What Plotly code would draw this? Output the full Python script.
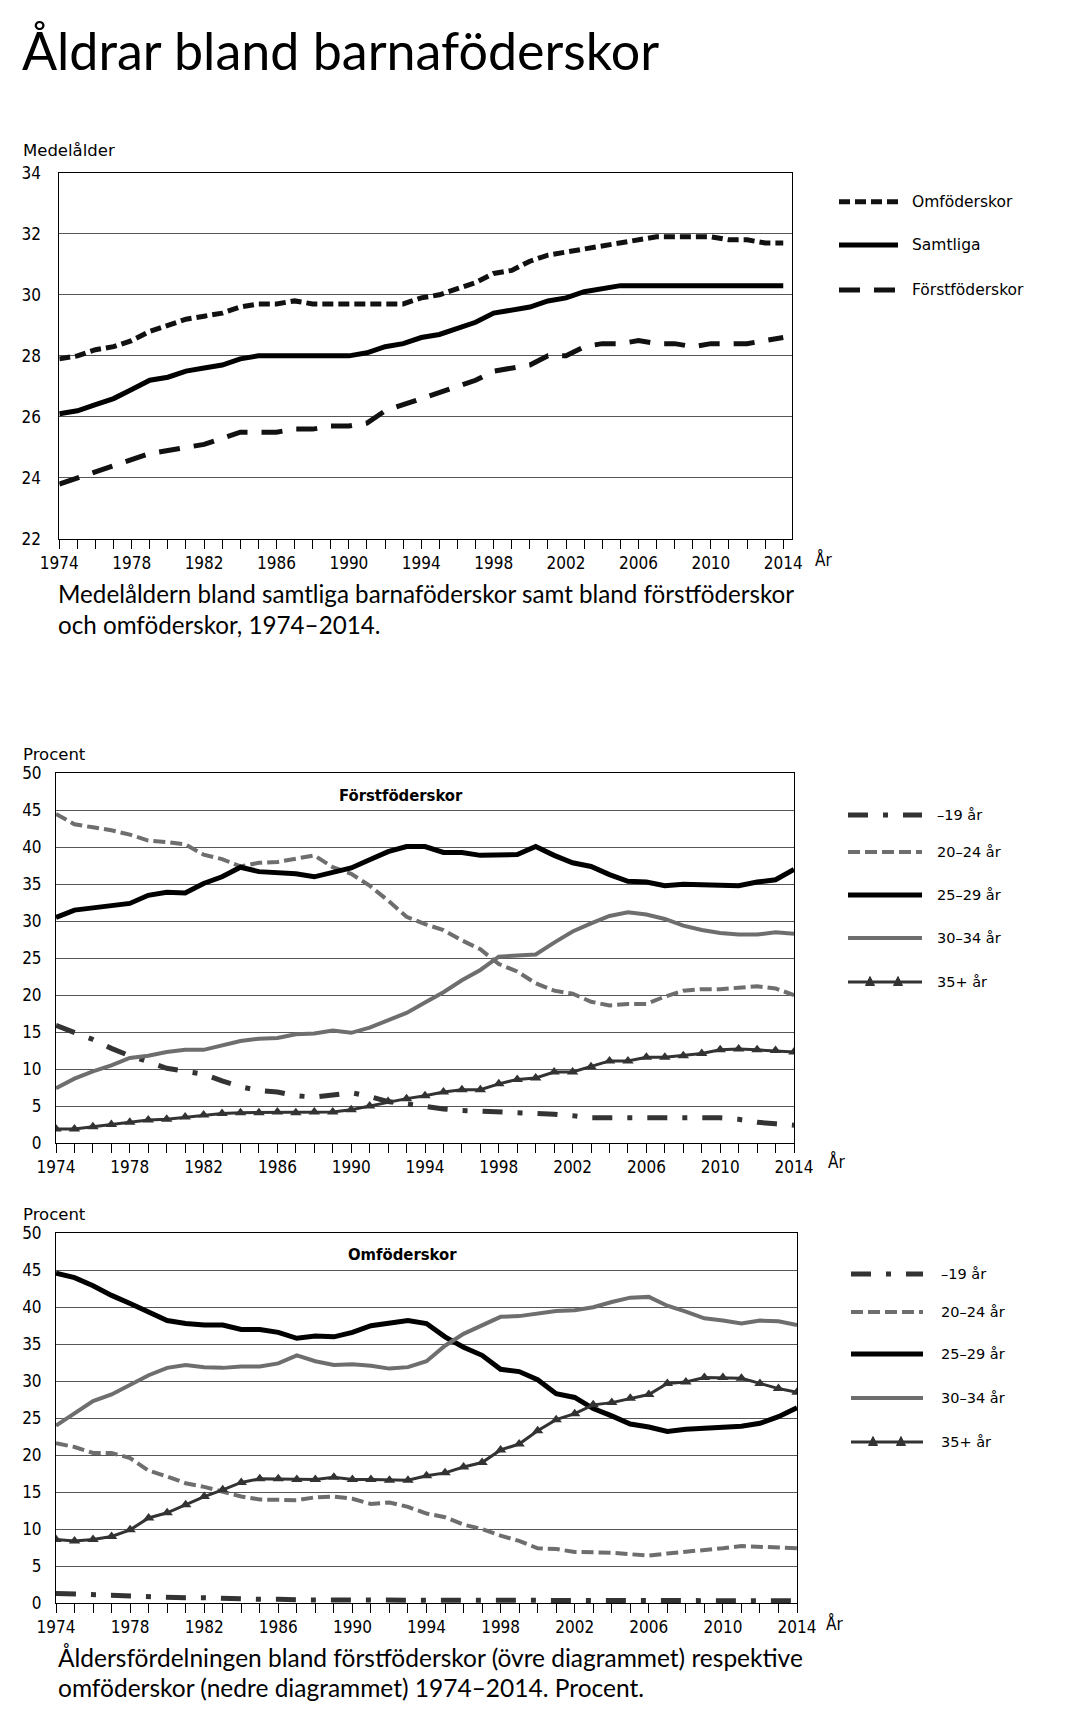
import plotly.graph_objects as go

# ---------------- data ----------------
years = list(range(1974, 2015))
x_tick_years = list(range(1974, 2015, 4))

# Chart 1: Medelålder
mean_omf = [27.9, 28.0, 28.2, 28.3, 28.5, 28.8, 29.0, 29.2, 29.3, 29.4,
            29.6, 29.7, 29.7, 29.8, 29.7, 29.7, 29.7, 29.7, 29.7, 29.7,
            29.9, 30.0, 30.2, 30.4, 30.7, 30.8, 31.1, 31.3, 31.4, 31.5,
            31.6, 31.7, 31.8, 31.9, 31.9, 31.9, 31.9, 31.8, 31.8, 31.7, 31.7]
mean_samt = [26.1, 26.2, 26.4, 26.6, 26.9, 27.2, 27.3, 27.5, 27.6, 27.7,
             27.9, 28.0, 28.0, 28.0, 28.0, 28.0, 28.0, 28.1, 28.3, 28.4,
             28.6, 28.7, 28.9, 29.1, 29.4, 29.5, 29.6, 29.8, 29.9, 30.1,
             30.2, 30.3, 30.3, 30.3, 30.3, 30.3, 30.3, 30.3, 30.3, 30.3, 30.3]
mean_forst = [23.8, 24.0, 24.2, 24.4, 24.6, 24.8, 24.9, 25.0, 25.1, 25.3,
              25.5, 25.5, 25.5, 25.6, 25.6, 25.7, 25.7, 25.8, 26.2, 26.4,
              26.6, 26.8, 27.0, 27.2, 27.5, 27.6, 27.7, 28.0, 28.0, 28.3,
              28.4, 28.4, 28.5, 28.4, 28.4, 28.3, 28.4, 28.4, 28.4, 28.5, 28.6]

# Chart 2: Förstföderskor, procent
forst_u19 = [15.9, 15.0, 14.0, 12.8, 11.8, 11.0, 10.1, 9.7, 9.3, 8.4,
             7.6, 7.1, 6.9, 6.4, 6.2, 6.5, 6.8, 6.3, 5.6, 5.3,
             4.9, 4.6, 4.4, 4.3, 4.2, 4.2, 4.1, 3.9, 3.7, 3.4,
             3.4, 3.4, 3.5, 3.4, 3.4, 3.4, 3.4, 3.2, 2.8, 2.6, 2.4]
forst_20_24 = [44.5, 43.1, 42.7, 42.3, 41.7, 40.9, 40.7, 40.4, 39.0, 38.4,
               37.4, 37.9, 38.0, 38.4, 38.9, 37.3, 36.4, 34.8, 32.8, 30.6,
               29.6, 28.8, 27.4, 26.2, 24.2, 23.2, 21.6, 20.6, 20.2, 19.1,
               18.6, 18.8, 18.8, 19.8, 20.6, 20.8, 20.8, 21.0, 21.2, 20.9, 20.0]
forst_25_29 = [30.5, 31.5, 31.8, 32.1, 32.4, 33.5, 33.9, 33.8, 35.1, 36.0,
               37.3, 36.7, 36.5, 36.4, 36.0, 36.6, 37.2, 38.3, 39.4, 40.1,
               40.1, 39.3, 39.3, 38.9, 38.9, 39.0, 40.1, 38.9, 37.9, 37.4,
               36.3, 35.4, 35.3, 34.8, 35.0, 34.9, 34.9, 34.8, 35.3, 35.6, 37.0]
forst_30_34 = [7.4, 8.7, 9.7, 10.5, 11.5, 11.8, 12.3, 12.6, 12.6, 13.2,
               13.8, 14.1, 14.2, 14.7, 14.8, 15.2, 14.9, 15.6, 16.6, 17.6,
               19.0, 20.4, 22.0, 23.4, 25.2, 25.3, 25.5, 27.1, 28.6, 29.7,
               30.7, 31.2, 30.9, 30.3, 29.4, 28.8, 28.4, 28.2, 28.2, 28.5, 28.3]
forst_35 = [1.9, 1.9, 2.2, 2.5, 2.8, 3.1, 3.2, 3.5, 3.8, 4.0,
            4.1, 4.1, 4.2, 4.1, 4.2, 4.2, 4.5, 5.0, 5.6, 6.0,
            6.4, 6.9, 7.2, 7.2, 8.0, 8.6, 8.8, 9.6, 9.6, 10.3,
            11.1, 11.1, 11.6, 11.6, 11.8, 12.1, 12.6, 12.7, 12.6, 12.5, 12.3]

# Chart 3: Omföderskor, procent
omf_u19 = [1.3, 1.2, 1.1, 1.0, 0.9, 0.8, 0.8, 0.7, 0.7, 0.6,
           0.6, 0.5, 0.5, 0.4, 0.4, 0.4, 0.4, 0.4, 0.4, 0.4,
           0.4, 0.3, 0.3, 0.3, 0.3, 0.3, 0.3, 0.3, 0.3, 0.3,
           0.3, 0.3, 0.3, 0.3, 0.3, 0.3, 0.3, 0.3, 0.3, 0.3, 0.3]
omf_20_24 = [21.6, 21.1, 20.3, 20.3, 19.6, 17.9, 17.1, 16.2, 15.7, 15.0,
             14.4, 14.0, 14.0, 13.9, 14.3, 14.4, 14.1, 13.4, 13.6, 13.0,
             12.1, 11.6, 10.6, 10.0, 9.1, 8.4, 7.4, 7.3, 6.9, 6.9,
             6.8, 6.6, 6.4, 6.7, 6.9, 7.2, 7.4, 7.7, 7.6, 7.5, 7.4]
omf_25_29 = [44.6, 44.0, 42.9, 41.6, 40.5, 39.4, 38.2, 37.8, 37.6, 37.6,
             37.0, 37.0, 36.6, 35.8, 36.1, 36.0, 36.6, 37.5, 37.8, 38.2,
             37.8, 36.0, 34.6, 33.5, 31.6, 31.3, 30.2, 28.3, 27.8, 26.3,
             25.3, 24.2, 23.8, 23.2, 23.5, 23.6, 23.7, 23.9, 24.3, 25.2, 26.4]
omf_30_34 = [24.0, 25.6, 27.3, 28.2, 29.5, 30.8, 31.8, 32.2, 31.9, 31.8,
             32.0, 32.0, 32.4, 33.5, 32.7, 32.2, 32.3, 32.1, 31.7, 31.9,
             32.7, 34.8, 36.4, 37.5, 38.7, 38.8, 39.1, 39.5, 39.6, 40.0,
             40.7, 41.3, 41.4, 40.2, 39.4, 38.5, 38.2, 37.8, 38.2, 38.1, 37.6]
omf_35 = [8.6, 8.4, 8.6, 9.0, 9.9, 11.5, 12.2, 13.3, 14.4, 15.3,
          16.3, 16.8, 16.8, 16.7, 16.7, 17.0, 16.7, 16.7, 16.6, 16.6,
          17.2, 17.6, 18.4, 19.0, 20.7, 21.5, 23.3, 24.8, 25.6, 26.8,
          27.1, 27.7, 28.2, 29.7, 29.9, 30.5, 30.5, 30.4, 29.7, 29.0, 28.5]

mean_names = ["Omföderskor", "Samtliga", "Förstföderskor"]
age_names = ["–19 år", "20–24 år", "25–29 år", "30–34 år", "35+ år"]

# ---------------- layout helpers ----------------
OFF = 8                      # page (body) margin of the html page
W, H = 1090 - 2 * OFF, 1734 - 2 * OFF
def px(x):
    return (x - OFF) / W
def py(y):
    return 1 - (y - OFF) / H

NARROW = "DejaVu Sans Condensed, Liberation Sans Narrow, Arial Narrow, sans-serif"
TICK_FONT = dict(family=NARROW, size=17, color="#000")
LAB_FONT = "DejaVu Sans, Lato, sans-serif"
CAP_FONT = "Lato, Open Sans, sans-serif"

DARK = "#333333"
GRAY = "#6e6e6e"

style_mean = [
    dict(color="#111", width=5, dash="11px,5px"),
    dict(color="#000", width=5, dash="solid"),
    dict(color="#111", width=5, dash="21px,14px"),
]
style_age = [
    dict(color=DARK, width=5, dash="20px,15px,5px,15px"),
    dict(color=GRAY, width=4, dash="12px,5px"),
    dict(color="#000", width=5, dash="solid"),
    dict(color=GRAY, width=4, dash="solid"),
    dict(color=DARK, width=3, dash="solid"),
]

fig = go.Figure()

def add_lines(series, names, styles, xa, ya):
    for vals, name, st in zip(series, names, styles):
        kw = {}
        mode = "lines"
        if name == "35+ år":
            mode = "lines+markers"
            kw["marker"] = dict(symbol="triangle-up", size=10, color=DARK)
        fig.add_trace(go.Scatter(x=years, y=vals, name=name, mode=mode,
                                 line=st, xaxis=xa, yaxis=ya,
                                 showlegend=False, **kw))

add_lines([mean_omf, mean_samt, mean_forst], mean_names, style_mean, "x", "y")
add_lines([forst_u19, forst_20_24, forst_25_29, forst_30_34, forst_35],
          age_names, style_age, "x2", "y2")
add_lines([omf_u19, omf_20_24, omf_25_29, omf_30_34, omf_35],
          age_names, style_age, "x3", "y3")

def xaxis(domain, rng, anchor):
    return dict(domain=domain, range=rng, anchor=anchor, tickmode="array", tickvals=years,
                ticktext=[str(y) if y in x_tick_years else "" for y in years],
                ticks="outside", ticklen=9, tickwidth=1, tickcolor="#000",
                showline=True, linecolor="#000", linewidth=1, mirror=True,
                showgrid=False, zeroline=False, tickfont=TICK_FONT, fixedrange=True,
                automargin=False)

def yaxis(domain, rng, dtick, standoff, anchor):
    return dict(domain=domain, range=rng, anchor=anchor, dtick=dtick, tick0=0,
                ticks="", showline=True, linecolor="#000", linewidth=1, mirror=True,
                showgrid=True, gridcolor="#555", gridwidth=1, zeroline=False,
                tickfont=TICK_FONT, ticklabelstandoff=standoff, fixedrange=True,
                automargin=False)

layout = dict(
    template="none",
    width=W, height=H, margin=dict(l=0, r=0, t=0, b=0, pad=0),
    paper_bgcolor="white", plot_bgcolor="white", showlegend=False,
    xaxis=xaxis([px(59.3), px(792.3)], [1974, 2014.5], "y"),
    yaxis=yaxis([py(539), py(172.7)], [22, 34], 2, 14, "x"),
    xaxis2=xaxis([px(56), px(794)], [1974, 2014], "y2"),
    yaxis2=yaxis([py(1143), py(773.3)], [0, 50], 5, 10, "x2"),
    xaxis3=xaxis([px(56), px(797)], [1974, 2014], "y3"),
    yaxis3=yaxis([py(1603), py(1233.3)], [0, 50], 5, 10, "x3"),
)
fig.update_layout(**layout)

ann = []
shapes = []

def text(x, y, s, size, family, xanchor="left", bold=False, color="#000"):
    if bold:
        s = "<b>" + s + "</b>"
    ann.append(dict(x=px(x), y=py(y), xref="paper", yref="paper", text=s,
                    showarrow=False, xanchor=xanchor, yanchor="middle",
                    font=dict(size=size, family=family, color=color)))

# Titles and captions
text(20, 50, "Åldrar bland barnaföderskor", 52, CAP_FONT)
text(21, 150, "Medelålder", 16.5, LAB_FONT)
text(21, 754, "Procent", 16.5, LAB_FONT)
text(21, 1214, "Procent", 16.5, LAB_FONT)
text(823, 560, "År", 17, NARROW, xanchor="center")
text(836, 1161, "År", 17, NARROW, xanchor="center")
text(834, 1623, "År", 17, NARROW, xanchor="center")
text(401, 795, "Förstföderskor", 16.5, NARROW, xanchor="center", bold=True)
text(403, 1254, "Omföderskor", 16.5, NARROW, xanchor="center", bold=True)
text(56, 593, "Medelåldern bland samtliga barnaföderskor samt bland förstföderskor", 24.2, CAP_FONT)
text(56, 624, "och omföderskor, 1974–2014.", 24.2, CAP_FONT)
text(56, 1657, "Åldersfördelningen bland förstföderskor (övre diagrammet) respektive", 24.5, CAP_FONT)
text(56, 1687, "omföderskor (nedre diagrammet) 1974–2014. Procent.", 24.5, CAP_FONT)

# Custom legends
def legend_line(x0, x1, y, st):
    shapes.append(dict(type="line", xref="paper", yref="paper",
                       x0=px(x0), x1=px(x1), y0=py(y), y1=py(y),
                       line=dict(color=st["color"], width=st["width"], dash=st["dash"])))

def legend_triangle(cx, cy, size=9):
    h = size
    pts = [(cx - size / 2, cy + h / 2), (cx + size / 2, cy + h / 2), (cx, cy - h / 2)]
    path = "M {} {} L {} {} L {} {} Z".format(
        px(pts[0][0]), py(pts[0][1]), px(pts[1][0]), py(pts[1][1]), px(pts[2][0]), py(pts[2][1]))
    shapes.append(dict(type="path", xref="paper", yref="paper", path=path,
                       fillcolor=DARK, line=dict(color=DARK, width=1)))

mean_rows = [201.7, 245, 290]
for name, st, yy in zip(mean_names, style_mean, mean_rows):
    legend_line(839, 898, yy, st)
    text(910, yy, name, 15.5, LAB_FONT)

for rows, lx0, lx1, tx in [([815, 852, 895, 938, 982], 848, 922, 935),
                           ([1274, 1312, 1354, 1398, 1442], 851, 923, 939)]:
    for name, st, yy in zip(age_names, style_age, rows):
        legend_line(lx0, lx1, yy, st)
        if name == "35+ år":
            legend_triangle(lx0 + 22, yy - 1)
            legend_triangle(lx0 + 50, yy - 1)
        text(tx, yy, name, 14.5, LAB_FONT)

fig.update_layout(annotations=ann, shapes=shapes)
fig.write_html("out.html")
